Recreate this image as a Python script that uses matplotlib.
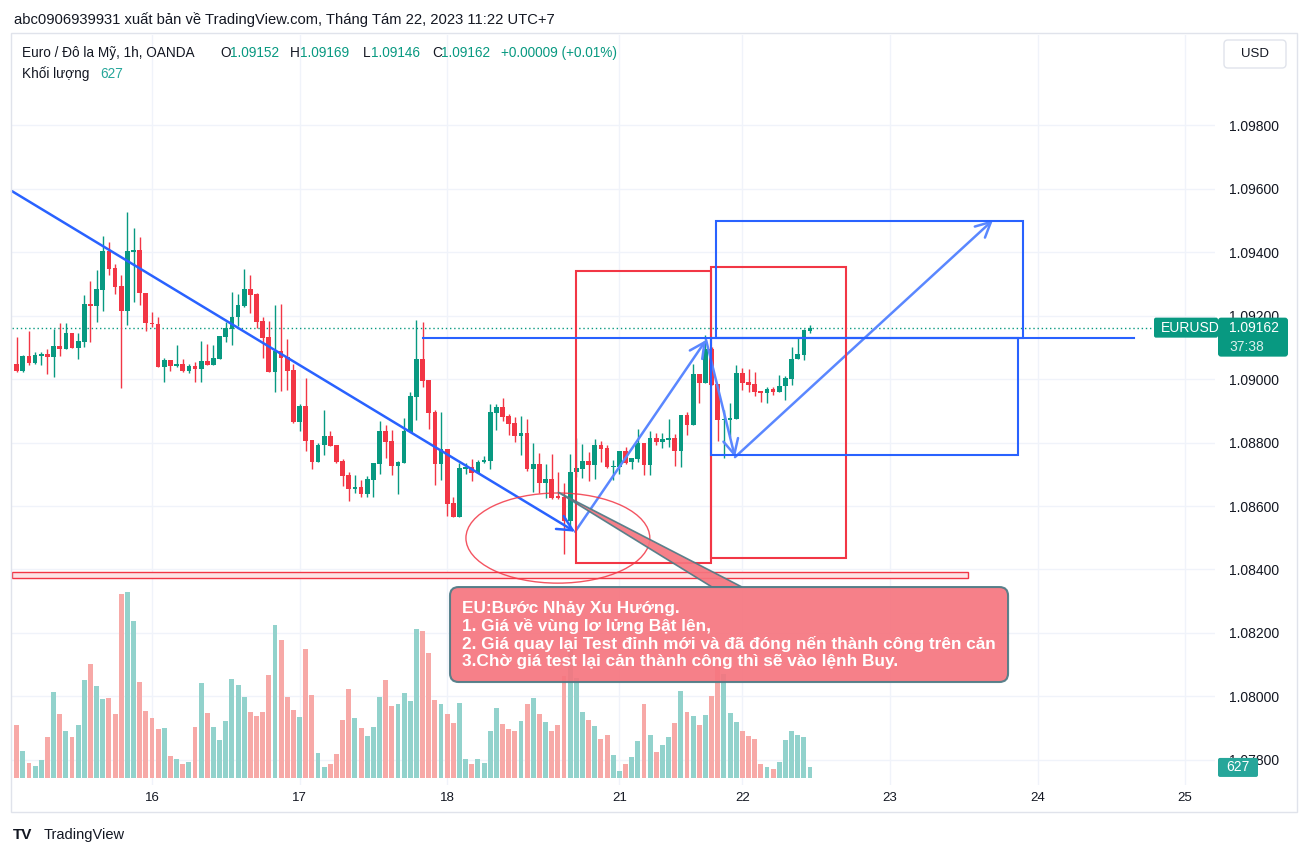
import matplotlib

matplotlib.use("Agg")
import matplotlib.pyplot as plt
from matplotlib.patches import Rectangle, FancyBboxPatch, Ellipse, Polygon
from matplotlib.transforms import blended_transform_factory, IdentityTransform

plt.rcParams["font.family"] = ["Liberation Sans", "DejaVu Sans"]

# EURUSD 1h OANDA, bar 0 = 15 Aug 02:00 (UTC+7), weekend gap removed
opens = [
    1.09047, 1.09025, 1.09072, 1.09051, 1.09074, 1.09079, 1.09070, 1.09104, 1.09095, 1.09145,
    1.09099, 1.09117, 1.09235, 1.09231, 1.09282, 1.09403, 1.09350, 1.09293, 1.09215, 1.09401,
    1.09408, 1.09270, 1.09178, 1.09175, 1.09039, 1.09060, 1.09041, 1.09046, 1.09026, 1.09041,
    1.09031, 1.09057, 1.09044, 1.09063, 1.09133, 1.09158, 1.09194, 1.09230, 1.09283, 1.09268,
    1.09183, 1.09132, 1.09023, 1.09088, 1.09069, 1.09028, 1.08865, 1.08915, 1.08807, 1.08739,
    1.08792, 1.08820, 1.08792, 1.08742, 1.08698, 1.08654, 1.08660, 1.08639, 1.08683, 1.08733,
    1.08836, 1.08805, 1.08727, 1.08736, 1.08834, 1.08943, 1.09063, 1.08997, 1.08896, 1.08733,
    1.08779, 1.08610, 1.08566, 1.08718, 1.08722, 1.08703, 1.08739, 1.08743, 1.08893, 1.08912,
    1.08883, 1.08861, 1.08821, 1.08830, 1.08716, 1.08732, 1.08671, 1.08684, 1.08630, 1.08627,
    1.08554, 1.08707, 1.08716, 1.08742, 1.08729, 1.08792, 1.08783, 1.08724, 1.08724, 1.08774,
    1.08739, 1.08749, 1.08800, 1.08730, 1.08815, 1.08802, 1.08809, 1.08815, 1.08774, 1.08887,
    1.08856, 1.09017, 1.08988, 1.09094, 1.08984, 1.08872, 1.08872, 1.08875, 1.09018, 1.08990,
    1.08984, 1.08962, 1.08955, 1.08968, 1.08960, 1.08978, 1.09000, 1.09063, 1.09077, 1.09152,
]
highs = [
    1.09133, 1.09075, 1.09151, 1.09084, 1.09084, 1.09095, 1.09157, 1.09176, 1.09176, 1.09145,
    1.09145, 1.09265, 1.09309, 1.09343, 1.09450, 1.09431, 1.09362, 1.09328, 1.09525, 1.09476,
    1.09448, 1.09270, 1.09211, 1.09195, 1.09066, 1.09060, 1.09107, 1.09063, 1.09049, 1.09054,
    1.09120, 1.09110, 1.09107, 1.09135, 1.09180, 1.09274, 1.09269, 1.09346, 1.09328, 1.09271,
    1.09195, 1.09183, 1.09233, 1.09236, 1.09126, 1.09047, 1.08921, 1.09004, 1.08807, 1.08799,
    1.08902, 1.08836, 1.08792, 1.08748, 1.08706, 1.08697, 1.08681, 1.08694, 1.08735, 1.08868,
    1.08855, 1.08839, 1.08742, 1.08877, 1.08959, 1.09186, 1.09180, 1.08997, 1.08902, 1.08896,
    1.08779, 1.08629, 1.08735, 1.08735, 1.08747, 1.08745, 1.08757, 1.08921, 1.08921, 1.08940,
    1.08890, 1.08880, 1.08883, 1.08874, 1.08798, 1.08767, 1.08732, 1.08764, 1.08707, 1.08671,
    1.08764, 1.08814, 1.08795, 1.08770, 1.08811, 1.08805, 1.08792, 1.08745, 1.08774, 1.08787,
    1.08752, 1.08843, 1.08800, 1.08837, 1.08830, 1.08830, 1.08875, 1.08827, 1.08887, 1.08897,
    1.09048, 1.09017, 1.09139, 1.09100, 1.08984, 1.08902, 1.08923, 1.09044, 1.09034, 1.09031,
    1.09021, 1.08962, 1.08976, 1.08976, 1.09013, 1.09009, 1.09100, 1.09129, 1.09157, 1.09169,
]
lows = [
    1.09022, 1.09022, 1.09044, 1.09047, 1.09044, 1.09016, 1.09007, 1.09073, 1.09095, 1.09099,
    1.09064, 1.09102, 1.09117, 1.09180, 1.09215, 1.09328, 1.09268, 1.08971, 1.09170, 1.09243,
    1.09233, 1.09152, 1.09165, 1.09039, 1.08991, 1.09026, 1.09038, 1.09023, 1.09020, 1.08991,
    1.08991, 1.09044, 1.09044, 1.09063, 1.09117, 1.09107, 1.09167, 1.09227, 1.09209, 1.09160,
    1.09067, 1.09023, 1.08960, 1.08963, 1.08966, 1.08862, 1.08837, 1.08774, 1.08717, 1.08739,
    1.08761, 1.08790, 1.08734, 1.08664, 1.08617, 1.08640, 1.08629, 1.08629, 1.08629, 1.08702,
    1.08752, 1.08699, 1.08639, 1.08736, 1.08834, 1.08871, 1.08976, 1.08843, 1.08667, 1.08683,
    1.08569, 1.08566, 1.08566, 1.08702, 1.08680, 1.08703, 1.08736, 1.08717, 1.08841, 1.08869,
    1.08825, 1.08802, 1.08761, 1.08711, 1.08645, 1.08640, 1.08624, 1.08621, 1.08621, 1.08449,
    1.08528, 1.08692, 1.08689, 1.08680, 1.08686, 1.08739, 1.08720, 1.08683, 1.08702, 1.08733,
    1.08717, 1.08739, 1.08699, 1.08699, 1.08793, 1.08784, 1.08787, 1.08727, 1.08724, 1.08825,
    1.08856, 1.08925, 1.08988, 1.08982, 1.08806, 1.08752, 1.08818, 1.08875, 1.08965, 1.08960,
    1.08947, 1.08928, 1.08925, 1.08950, 1.08960, 1.08934, 1.08982, 1.09063, 1.09061, 1.09146,
]
closes = [
    1.09025, 1.09072, 1.09051, 1.09076, 1.09080, 1.09070, 1.09104, 1.09095, 1.09145, 1.09099,
    1.09120, 1.09236, 1.09231, 1.09283, 1.09403, 1.09347, 1.09291, 1.09215, 1.09403, 1.09408,
    1.09270, 1.09177, 1.09172, 1.09039, 1.09060, 1.09042, 1.09047, 1.09026, 1.09041, 1.09031,
    1.09057, 1.09044, 1.09066, 1.09135, 1.09161, 1.09194, 1.09233, 1.09283, 1.09265, 1.09180,
    1.09130, 1.09023, 1.09088, 1.09067, 1.09026, 1.08865, 1.08915, 1.08806, 1.08739, 1.08792,
    1.08820, 1.08790, 1.08739, 1.08695, 1.08654, 1.08660, 1.08639, 1.08685, 1.08735, 1.08836,
    1.08802, 1.08727, 1.08738, 1.08836, 1.08946, 1.09063, 1.08995, 1.08894, 1.08733, 1.08779,
    1.08607, 1.08566, 1.08720, 1.08724, 1.08703, 1.08739, 1.08745, 1.08895, 1.08912, 1.08881,
    1.08859, 1.08821, 1.08830, 1.08716, 1.08732, 1.08671, 1.08684, 1.08626, 1.08624, 1.08554,
    1.08707, 1.08720, 1.08742, 1.08729, 1.08792, 1.08779, 1.08724, 1.08727, 1.08774, 1.08736,
    1.08752, 1.08800, 1.08730, 1.08815, 1.08802, 1.08812, 1.08815, 1.08774, 1.08887, 1.08856,
    1.09017, 1.08988, 1.09094, 1.08982, 1.08872, 1.08875, 1.08877, 1.09018, 1.08988, 1.08981,
    1.08960, 1.08955, 1.08968, 1.08960, 1.08978, 1.09003, 1.09063, 1.09079, 1.09153, 1.09162,
]
volumes = [
    3081, 1560, 858, 683, 1034, 2379, 5012, 3725, 2730, 2379,
    3081, 5714, 6650, 5363, 4602, 4661, 3725, 10745, 10881, 9165,
    5597, 3900, 3491, 2847, 2906, 1268, 1092, 800, 917, 2964,
    5538, 3783, 2964, 2204, 3315, 5772, 5421, 4719, 3842, 3608,
    3842, 6006, 8931, 8054, 4719, 3959, 3549, 7527, 4836, 1443,
    624, 800, 1385, 3374, 5187, 3491, 2906, 2438, 2964, 4719,
    5714, 4193, 4310, 4953, 4485, 8697, 8580, 7293, 4544, 4310,
    3725, 3218, 4368, 1092, 800, 1092, 858, 2730, 4076, 3140,
    2847, 2730, 3315, 4310, 4661, 3725, 3257, 2730, 3081, 5948,
    7937, 5831, 3842, 3374, 3023, 2262, 2496, 1326, 390, 800,
    1209, 2145, 4310, 2496, 1502, 1911, 2379, 3198, 5070, 3842,
    3608, 3081, 3666, 4778, 6474, 6045, 3783, 3257, 2730, 2438,
    2262, 800, 624, 507, 917, 2204, 2730, 2496, 2379, 627,
]

day_ticks = [22, 46, 70, 98, 118, 142, 166, 190]
day_labels = ["16", "17", "18", "21", "22", "23", "24", "25"]
price_ticks = [1.078, 1.080, 1.082, 1.084, 1.086, 1.088, 1.090, 1.092, 1.094, 1.096, 1.098]

callout_text = (
    "EU:Bước Nhảy Xu Hướng.\n"
    "1. Giá về vùng lơ lửng Bật lên,\n"
    "2. Giá quay lại Test đỉnh mới và đã đóng nến thành công trên cản\n"
    "3.Chờ giá test lại cản thành công thì sẽ vào lệnh Buy."
)

GREEN = "#089981"
RED = "#f23645"
VOL_GREEN = "#92d2cc"
VOL_RED = "#f7a9a7"
BLUE = "#2962ff"
ARROW_BLUE = "#5a87ff"
TEXT = "#131722"
GRID = "#f0f3fa"
BORDER = "#e0e3eb"

W, H = 1307, 857
fig = plt.figure(figsize=(W / 100, H / 100), dpi=100)
fig.patch.set_facecolor("white")


def fx(px):
    return px / W


def fy(py):
    return 1 - py / H


pane = [fx(12), fy(785), 1203 / W, 750 / H]
vax = fig.add_axes(pane, zorder=0)
ax = fig.add_axes(pane, zorder=1)
ax.patch.set_alpha(0)

for a in (ax, vax):
    a.set_xlim(-0.76, 194.85)
    for s in a.spines.values():
        s.set_visible(False)
ax.set_ylim(1.07721, 1.10084)
vax.set_ylim(-430, 43450)
vax.set_xticks([])
vax.set_yticks([])

# grid behind the volume
for d in day_ticks:
    vax.axvline(d, color=GRID, lw=1, zorder=0)
grid_tr = blended_transform_factory(vax.transAxes, ax.transData)
for p in price_ticks:
    vax.plot([0, 1], [p, p], transform=grid_tr, color=GRID, lw=1, zorder=0)

xs = list(range(len(opens)))
up = [c >= o for o, c in zip(opens, closes)]
candle_colors = [GREEN if u else RED for u in up]

vax.bar(xs, volumes, width=0.8, color=[VOL_GREEN if u else VOL_RED for u in up],
        linewidth=0, zorder=2)

ax.vlines(xs, lows, highs, colors=candle_colors, lw=1, zorder=3)
bottoms = [min(o, c) for o, c in zip(opens, closes)]
heights = [max(abs(c - o), 0.00003) for o, c in zip(opens, closes)]
ax.bar(xs, heights, bottom=bottoms, width=0.76, color=candle_colors, linewidth=0, zorder=4)

last = closes[-1]
ax.axhline(last, xmax=(1155 - 12) / 1203, color=GREEN, lw=1, ls=(0, (1, 2)), zorder=2)

# ---- drawings (anchored at bar index / price) ----
ax.annotate("", xy=(90.8, 1.08519), xytext=(-0.76, 1.09592),
            arrowprops=dict(arrowstyle="->,head_length=0.9,head_width=0.45", color=BLUE,
                            lw=1.8, shrinkA=0, shrinkB=0, mutation_scale=12), zorder=6)
arrow_path = [(90.8, 1.08519), (112.1, 1.09123), (116.8, 1.08754), (158.75, 1.09501)]
for (x0, y0), (x1, y1) in zip(arrow_path[:-1], arrow_path[1:]):
    ax.annotate("", xy=(x1, y1), xytext=(x0, y0),
                arrowprops=dict(arrowstyle="->,head_length=0.9,head_width=0.45",
                                color=ARROW_BLUE, lw=1.8, shrinkA=0, shrinkB=0,
                                mutation_scale=12), zorder=6)

for x0, x1, y0, y1 in [(90.94, 112.9, 1.08420, 1.09340), (112.9, 134.85, 1.08436, 1.09353)]:
    ax.add_patch(Rectangle((x0, y0), x1 - x0, y1 - y0, fill=False, ec=RED, lw=1.5, zorder=6))
for x0, x1, y0, y1 in [(113.7, 163.6, 1.09129, 1.09498), (112.9, 162.8, 1.08761, 1.09129)]:
    ax.add_patch(Rectangle((x0, y0), x1 - x0, y1 - y0, fill=False, ec=BLUE, lw=1.5, zorder=6))
ax.plot([66.1, 181.7], [1.09129, 1.09129], color=BLUE, lw=1.5, zorder=6)

ax.add_patch(Rectangle((-0.76, 1.08373), 155.5, 0.00019, fc="#fde4e6", ec=RED, lw=1, zorder=5))
ax.add_patch(Ellipse((88.0, 1.08499), 29.9, 0.00284, fill=False, ec=RED, lw=1, alpha=0.85,
                     zorder=6))

aspect = 6.15 / 31746
ax.add_patch(Polygon([(88.0, 1.08644), (113.06, 1.083447), (117.94, 1.083447)],
                     closed=True, fc="#f6757f", ec="#4d7b86", lw=1.2, alpha=0.92, zorder=7))
ax.add_patch(FancyBboxPatch((70.46, 1.080455), 90.74, 0.002992,
                            boxstyle="round,pad=0,rounding_size=1.4", mutation_aspect=aspect,
                            fc="#f6757f", ec="#4d7b86", lw=1.5, alpha=0.92, zorder=7))
ax.text(72.4, 1.08300, callout_text, color="white", fontsize=12.4, fontweight="bold",
        va="top", ha="left", linespacing=1.14, zorder=8)

# ---- axes labels ----
ax.set_xticks(day_ticks, day_labels)
ax.tick_params(axis="x", length=0, pad=5, labelsize=9.5, labelcolor=TEXT)
ax.set_yticks(price_ticks, [f"{p:.5f}" for p in price_ticks])
ax.yaxis.tick_right()
ax.tick_params(axis="y", length=0, pad=10, labelsize=10, labelcolor=TEXT)


def px_box(x0, y0, w, h, **kw):
    patch = FancyBboxPatch((x0, y0), w, h, transform=IdentityTransform(), **kw)
    fig.patches.append(patch)


yl = ax.transData.transform((0, last))[1]
px_box(1154, yl - 10, 64, 20, boxstyle="round,pad=0,rounding_size=2", fc=GREEN, ec="none",
       zorder=5)
px_box(1218, yl - 29, 70, 39, boxstyle="round,pad=0,rounding_size=3", fc=GREEN, ec="none",
       zorder=5)
fig.text(fx(1161), yl / H, "EURUSD", color="white", fontsize=10, va="center", zorder=6)
fig.text(fx(1229), yl / H, f"{last:.5f}", color="white", fontsize=10, va="center", zorder=6)
fig.text(fx(1229), (yl - 19) / H, "37:38", color="#d9f0ec", fontsize=10, va="center", zorder=6)

yv = vax.transData.transform((0, volumes[-1]))[1]
px_box(1218, yv - 10, 40, 19, boxstyle="round,pad=0,rounding_size=2", fc="#26a69a", ec="none",
       zorder=5)
fig.text(fx(1238), yv / H, str(volumes[-1]), color="white", fontsize=10, ha="center",
         va="center", zorder=6)

# container frame and header
fig.patches.append(Rectangle((11, H - 812), 1286, 779, transform=IdentityTransform(),
                             fill=False, ec=BORDER, lw=1, zorder=4))
px_box(1224, H - 68, 62, 28, boxstyle="round,pad=0,rounding_size=4", fc="white", ec=BORDER,
       lw=1, zorder=5)
fig.text(fx(1255), fy(54), "USD", color=TEXT, fontsize=9.5, ha="center", va="center", zorder=6)

fig.text(fx(14), fy(20), "abc0906939931 xuất bản về TradingView.com, Tháng Tám 22, 2023 11:22 UTC+7",
         color=TEXT, fontsize=10.6, va="center")

legend_y = fy(53)
fig.text(fx(22.5), legend_y, "Euro / Đô la Mỹ, 1h, OANDA", color=TEXT, fontsize=9.8, va="center")
for label, value, lx, vx in [("O", opens[-1], 220.5, 229.8), ("H", highs[-1], 289.8, 300.0),
                             ("L", lows[-1], 362.4, 371.4), ("C", closes[-1], 432.7, 440.8)]:
    fig.text(fx(lx), legend_y, label, color=TEXT, fontsize=9.8, va="center")
    fig.text(fx(vx), legend_y, f"{value:.5f}", color=GREEN, fontsize=9.8, va="center")
change = closes[-1] - closes[-2]
fig.text(fx(501), legend_y, f"+{change:.5f} (+{change / closes[-2] * 100:.2f}%)",
         color=GREEN, fontsize=9.8, va="center")
fig.text(fx(22.5), fy(74), "Khối lượng", color=TEXT, fontsize=9.8, va="center")
fig.text(fx(100), fy(74), str(volumes[-1]), color="#26a69a", fontsize=9.8, va="center")

# TradingView footer
fig.text(fx(13), fy(835), "TV", color=TEXT, fontsize=11, fontweight="heavy", va="center")
fig.text(fx(44), fy(835), "TradingView", color=TEXT, fontsize=10.5, va="center")

fig.savefig("out.png", dpi=100, facecolor="white")
plt.close(fig)
